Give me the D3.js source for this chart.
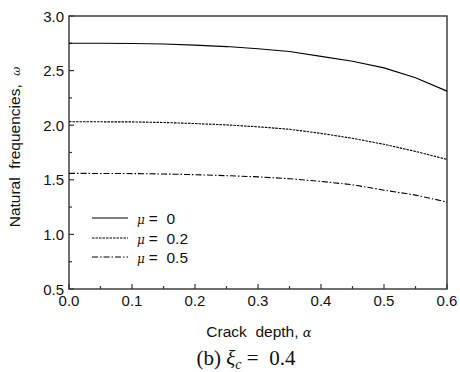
<!DOCTYPE html>
<html>
<head>
<meta charset="utf-8">
<script src="https://cdn.jsdelivr.net/npm/d3@7"></script>
<style>
  body { margin: 0; background: #fff; }
  svg text { font-family: "Liberation Sans", Arial, sans-serif; fill: #111; white-space: pre; }
</style>
</head>
<body>
<svg id="chart" width="460" height="372"></svg>
<script>
// crack depth samples
const alpha = [0, 0.05, 0.1, 0.15, 0.2, 0.25, 0.3, 0.35, 0.4, 0.45, 0.5, 0.55, 0.6];
// natural frequencies for each mu
const mu0  = [2.750, 2.750, 2.748, 2.743, 2.733, 2.720, 2.700, 2.675, 2.630, 2.585, 2.525, 2.435, 2.312];
const mu02 = [2.032, 2.031, 2.030, 2.025, 2.015, 2.003, 1.985, 1.963, 1.925, 1.880, 1.825, 1.760, 1.687];
const mu05 = [1.559, 1.558, 1.557, 1.553, 1.547, 1.538, 1.527, 1.510, 1.485, 1.455, 1.405, 1.360, 1.297];
const legendLabels = ['0', '0.2', '0.5'];
const xTicks = [0, 0.1, 0.2, 0.3, 0.4, 0.5, 0.6];
const yTicks = [0.5, 1.0, 1.5, 2.0, 2.5, 3.0];

const series = [
  { vals: mu0,  dash: null },
  { vals: mu02, dash: '2.5,1' },
  { vals: mu05, dash: '6,2,1.5,2' }
];

const svg = d3.select('#chart');
const pLeft = 69, pRight = 447, pTop = 16, pBottom = 289;

let x = d3.scaleLinear().domain([0, 0.6]).range([pLeft, pRight]);
let y = d3.scaleLinear().domain([0.5, 3.0]).range([pBottom, pTop]);

// frame
svg.append('rect')
  .attr('x', pLeft).attr('y', pTop)
  .attr('width', pRight - pLeft).attr('height', pBottom - pTop)
  .attr('fill', 'none').attr('stroke', '#333').attr('stroke-width', 1.4);

// x ticks (inward)
let xMinor = d3.range(0, 0.6001, 0.05);
svg.append('g').selectAll('line')
  .data(xMinor).enter().append('line')
  .attr('x1', d => x(d)).attr('x2', d => x(d))
  .attr('y1', pBottom)
  .attr('y2', (d, i) => i % 2 == 0 ? pBottom - 5 : pBottom - 3)
  .attr('stroke', '#333').attr('stroke-width', 1.2);

svg.append('g').selectAll('text')
  .data(xTicks).enter().append('text')
  .attr('x', d => x(d)).attr('y', 306)
  .attr('text-anchor', 'middle')
  .style('font-size', '15px')
  .text(d => d3.format('.1f')(d));

// y ticks (inward)
let yMinor = d3.range(0.5, 3.0001, 0.25);
svg.append('g').selectAll('line')
  .data(yMinor).enter().append('line')
  .attr('y1', d => y(d)).attr('y2', d => y(d))
  .attr('x1', pLeft)
  .attr('x2', (d, i) => i % 2 == 0 ? pLeft + 5 : pLeft + 3)
  .attr('stroke', '#333').attr('stroke-width', 1.2);

svg.append('g').selectAll('text')
  .data(yTicks).enter().append('text')
  .attr('x', 64).attr('y', d => y(d) + 5.5)
  .attr('text-anchor', 'end')
  .style('font-size', '15px')
  .text(d => d3.format('.1f')(d));

// curves
let line = d3.line()
  .x((d, i) => x(alpha[i]))
  .y(d => y(d));

series.forEach(function(s) {
  svg.append('path')
    .attr('d', line(s.vals))
    .attr('fill', 'none')
    .attr('stroke', '#000')
    .attr('stroke-width', 1.1)
    .attr('stroke-dasharray', s.dash);
});

// legend
let legY = [218, 238, 257];
series.forEach(function(s, i) {
  svg.append('line')
    .attr('x1', 92).attr('x2', 128)
    .attr('y1', legY[i]).attr('y2', legY[i])
    .attr('stroke', '#000').attr('stroke-width', 1.1)
    .attr('stroke-dasharray', s.dash);
  let t = svg.append('text')
    .attr('x', 137).attr('y', legY[i] + 5.5)
    .style('font-size', '15.5px');
  t.append('tspan')
    .style('font-family', '"DejaVu Serif", serif')
    .style('font-style', 'italic')
    .style('font-size', '12px')
    .text('\u03bc');
  t.append('tspan').attr('dx', 4).text('=  ' + legendLabels[i]);
});

// axis titles
let xt = svg.append('text')
  .attr('x', 259).attr('y', 337)
  .attr('text-anchor', 'middle')
  .style('font-size', '15.5px');
xt.append('tspan').text('Crack  depth, ');
xt.append('tspan')
  .style('font-family', '"DejaVu Serif", serif')
  .style('font-style', 'italic')
  .style('font-size', '13px')
  .text('\u03b1');

let yt = svg.append('text')
  .attr('transform', 'translate(20,147) rotate(-90)')
  .attr('text-anchor', 'middle')
  .style('font-size', '15.5px');
yt.append('tspan').text('Natural  frequencies,  ');
yt.append('tspan')
  .style('font-family', '"DejaVu Serif", serif')
  .style('font-style', 'italic')
  .style('font-size', '11px')
  .text('\u03c9');

// caption
let cap = svg.append('text')
  .attr('x', 246).attr('y', 365)
  .attr('text-anchor', 'middle')
  .style('font-family', '"Liberation Serif", "Times New Roman", serif')
  .style('font-size', '21px');
cap.append('tspan').text('(b) ');
cap.append('tspan').style('font-style', 'italic').text('\u03be');
cap.append('tspan').attr('dy', 4).style('font-style', 'italic').style('font-size', '14px').text('c');
cap.append('tspan').attr('dy', -4).text(' =  0.4');
</script>
</body>
</html>
